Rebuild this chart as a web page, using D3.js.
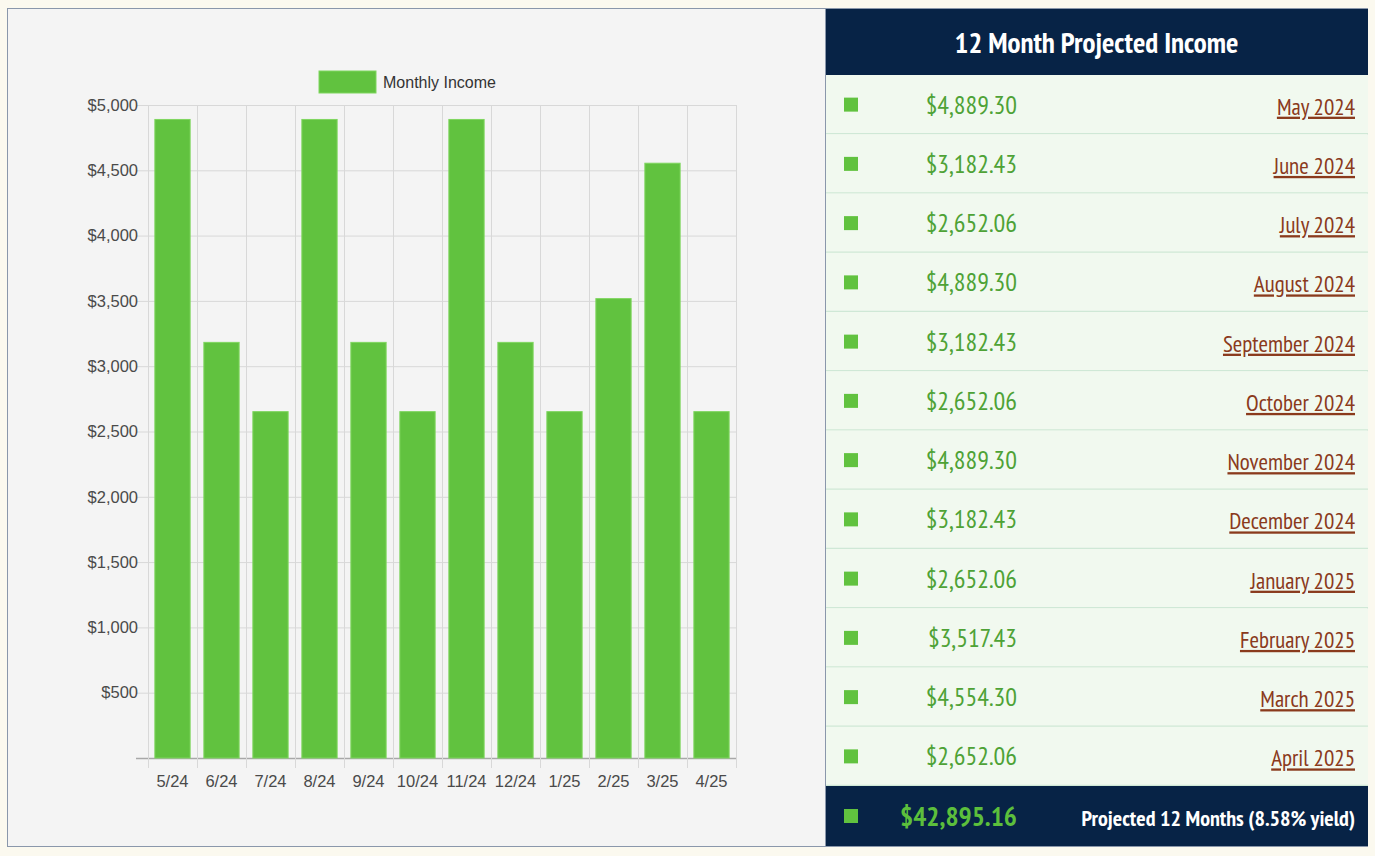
<!DOCTYPE html>
<html><head><meta charset="utf-8">
<script src="https://cdn.jsdelivr.net/npm/d3@7"></script>
<style>
html,body{margin:0;padding:0;background:#fbf9ef;}
svg{display:block;}
</style></head>
<body>
<svg id="c" width="1375" height="856"></svg>
<script>
const categories = ["5/24","6/24","7/24","8/24","9/24","10/24","11/24","12/24","1/25","2/25","3/25","4/25"];
const monthNames = ["May 2024","June 2024","July 2024","August 2024","September 2024","October 2024","November 2024","December 2024","January 2025","February 2025","March 2025","April 2025"];
const income = [4889.30,3182.43,2652.06,4889.30,3182.43,2652.06,4889.30,3182.43,2652.06,3517.43,4554.30,2652.06];
const yTicks = [500,1000,1500,2000,2500,3000,3500,4000,4500,5000];
const seriesName = "Monthly Income";
const tableTitle = "12 Month Projected Income";
const totalLabel = "Projected 12 Months (8.58% yield)";

const svg = d3.select("#c");
const green = "#61c23f";
const navy = "#072346";
const condensed = "'PT Sans Narrow','Liberation Sans Narrow','DejaVu Sans Condensed',sans-serif";
const sans = "'Liberation Sans',Arial,sans-serif";

// outer panel
svg.append("rect").attr("x",8).attr("y",9).attr("width",817).attr("height",837).attr("fill","#f4f4f4");
svg.append("rect").attr("x",7.5).attr("y",8.5).attr("width",1360).attr("height",838).attr("fill","none").attr("stroke","#8a97ab").attr("stroke-width",1);

// chart
const x = d3.scaleBand().domain(categories).range([148,736]).paddingInner(0).paddingOuter(0);
const y = d3.scaleLinear().domain([0,5000]).range([758,105]);
const g = svg.append("g");

// horizontal grid
g.selectAll(".hg").data([0].concat(yTicks)).join("line")
  .attr("x1",136).attr("x2",736).attr("y1",d=>y(d)+0.5).attr("y2",d=>y(d)+0.5)
  .attr("stroke",d=>d===0?"#a8a8a8":"#d8d8d8").attr("stroke-width",d=>d===0?1.5:1);
// vertical grid
const vx = categories.map(c=>x(c)).concat([736]);
g.selectAll(".vg").data(vx).join("line")
  .attr("x1",d=>Math.round(d)+0.5).attr("x2",d=>Math.round(d)+0.5).attr("y1",105).attr("y2",768)
  .attr("stroke","#d8d8d8");

// y labels
g.selectAll(".yl").data(yTicks).join("text")
  .attr("x",138).attr("y",d=>y(d)).attr("dy","0.35em").attr("text-anchor","end")
  .attr("font-family",sans).attr("font-size",16.5).attr("fill","#4a4a4a")
  .text(d=>"$"+d3.format(",")(d));
// x labels
g.selectAll(".xl").data(categories).join("text")
  .attr("x",d=>x(d)+x.bandwidth()/2).attr("y",781).attr("dy","0.35em").attr("text-anchor","middle")
  .attr("font-family",sans).attr("font-size",16.5).attr("fill","#4a4a4a")
  .text(d=>d);

// bars
const bw = x.bandwidth()*0.72;
g.selectAll(".bar").data(income).join("rect")
  .attr("x",(d,i)=>x(categories[i])+(x.bandwidth()-bw)/2)
  .attr("y",d=>y(d)).attr("width",bw).attr("height",d=>y(0)-y(d))
  .attr("fill",green).attr("stroke","#7fd65f").attr("stroke-width",1);

// legend
svg.append("rect").attr("x",319).attr("y",71).attr("width",57).attr("height",22).attr("fill",green).attr("stroke","#7fd65f");
svg.append("text").attr("x",383).attr("y",82).attr("dy","0.35em")
  .attr("font-family",sans).attr("font-size",16).attr("fill","#333").text(seriesName);

// right table
const tx0 = 825, tx1 = 1368;
svg.append("rect").attr("x",tx0).attr("y",9).attr("width",tx1-tx0).attr("height",66).attr("fill",navy);
svg.append("text").attr("x",(tx0+tx1)/2).attr("y",43).attr("dy","0.35em").attr("text-anchor","middle")
  .attr("font-family",condensed).attr("font-size",29).attr("font-weight","bold").attr("fill","#fff").text(tableTitle);

const rowY = d3.scaleBand().domain(d3.range(income.length)).range([75,786]);
const rows = svg.append("g").selectAll("g").data(income).join("g")
  .attr("transform",(d,i)=>`translate(0,${rowY(i)})`);
rows.append("rect").attr("x",tx0).attr("y",0).attr("width",tx1-tx0).attr("height",rowY.bandwidth()).attr("fill","#f1f9ef");
rows.append("line").attr("x1",tx0).attr("x2",tx1).attr("y1",rowY.bandwidth()-0.5).attr("y2",rowY.bandwidth()-0.5)
  .attr("stroke","#cfe8d6").attr("stroke-width",1.5);
rows.append("rect").attr("x",844).attr("y",rowY.bandwidth()/2-7).attr("width",14).attr("height",14).attr("fill",green);
rows.append("text").attr("x",1017).attr("y",rowY.bandwidth()/2).attr("dy","0.35em").attr("text-anchor","end")
  .attr("font-family",condensed).attr("font-size",26).attr("fill","#4ea236")
  .text(d=>"$"+d3.format(",.2f")(d));
rows.append("text").attr("x",1355).attr("y",rowY.bandwidth()/2+2).attr("dy","0.35em").attr("text-anchor","end")
  .attr("font-family",condensed).attr("font-size",23).attr("fill","#8a3a1c").attr("text-decoration","underline")
  .text((d,i)=>monthNames[i]);

// footer
const total = d3.sum(income);
svg.append("rect").attr("x",tx0).attr("y",786).attr("width",tx1-tx0).attr("height",60).attr("fill",navy);
svg.append("rect").attr("x",844).attr("y",809).attr("width",14).attr("height",14).attr("fill",green);
svg.append("text").attr("x",1017).attr("y",816).attr("dy","0.35em").attr("text-anchor","end")
  .attr("font-family",condensed).attr("font-size",27.5).attr("font-weight","bold").attr("fill","#5cbf3c")
  .text("$"+d3.format(",.2f")(total));
svg.append("text").attr("x",1355).attr("y",818).attr("dy","0.35em").attr("text-anchor","end")
  .attr("font-family",condensed).attr("font-size",22).attr("font-weight","bold").attr("fill","#fff")
  .text(totalLabel);
// table left border
svg.append("line").attr("x1",825.5).attr("x2",825.5).attr("y1",9).attr("y2",846).attr("stroke","#8a97ab");
</script>
</body></html>
